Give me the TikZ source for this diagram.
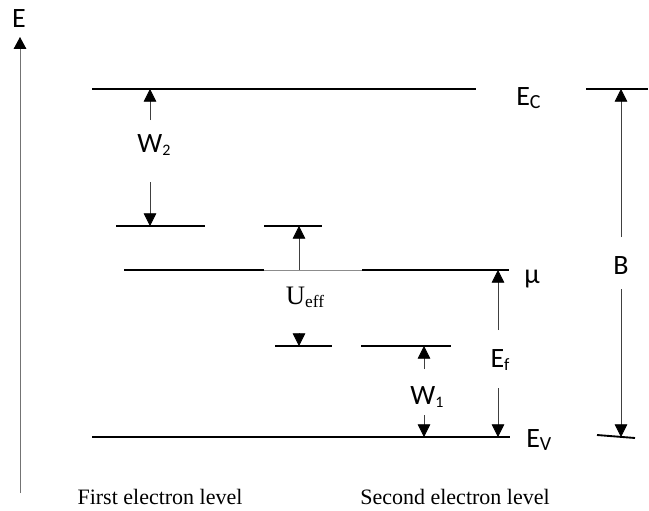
\documentclass[tikz,border=0pt]{standalone}
\usepackage{fontspec}
\setmainfont{Liberation Serif}
\newfontfamily\labelfont{Carlito}
\usetikzlibrary{arrows.meta}
\newcommand\lowsub[2]{\raisebox{-0.12em}{\fontsize{#1}{#1}\selectfont #2}}

\begin{document}
\begin{tikzpicture}[x=0.75pt, y=-0.75pt,
    level/.style={line width=1.4pt, line cap=butt},
    faint/.style={line width=0.7pt, black!45},
    arr/.style={line width=0.6pt, black!75, -{Triangle[width=9.5pt, length=9.5pt, color=black]}},
    lab/.style={font=\labelfont\fontsize{21}{24}\selectfont, inner sep=0pt},
    rom/.style={font=\fontsize{16.5}{18}\selectfont, inner sep=0pt}]

        \useasboundingbox (0,0) rectangle (649,510);

        % Energy axis
        \coordinate (E0) at (20,493);
        \coordinate (E1) at (20,37);
        \draw[line width=0.7pt, black!55, -{Triangle[width=9.5pt, length=9pt, color=black]}] (E0) -- (E1);
        \node[lab] (Elab) at (19,19) {E};

        % Levels
        \coordinate (Ec1) at (92,89);
        \coordinate (Ec2) at (476,89);
        \coordinate (Bt1) at (586,89);
        \coordinate (Bt2) at (648,89);
        \coordinate (La1) at (116,226);
        \coordinate (La2) at (205,226);
        \coordinate (Lb1) at (264,226);
        \coordinate (Lb2) at (322,226);
        \coordinate (Mu1) at (124,270);
        \coordinate (Mu2) at (264,270);
        \coordinate (Mu3) at (362,270);
        \coordinate (Mu4) at (509,270);
        \coordinate (Lc1) at (275,346);
        \coordinate (Lc2) at (332,346);
        \coordinate (Ld1) at (361,346);
        \coordinate (Ld2) at (451,346);
        \coordinate (Ev1) at (92,437);
        \coordinate (Ev2) at (510,437);
        \coordinate (Bb1) at (597,435);
        \coordinate (Bb2) at (635,438);

        \draw[level] (Ec1) -- (Ec2);
        \draw[level] (Bt1) -- (Bt2);
        \draw[level] (La1) -- (La2);
        \draw[level] (Lb1) -- (Lb2);
        \draw[level] (Mu1) -- (Mu2);
        \draw[faint] (Mu2) -- (Mu3);
        \draw[level] (Mu3) -- (Mu4);
        \draw[level] (Lc1) -- (Lc2);
        \draw[level] (Ld1) -- (Ld2);
        \draw[level] (Ev1) -- (Ev2);
        \draw[level] (Bb1) -- (Bb2);

        % Gap arrows
        \coordinate (W2a) at (150,120);
        \coordinate (W2b) at (150,182);
        \draw[arr] (W2a) -- (150,89);
        \draw[arr] (W2b) -- (150,226);
        \node[lab] (W2) at (154,145) {W\lowsub{12}{2}};

        \coordinate (Ua) at (299,270);
        \coordinate (Ub) at (299,333);
        \draw[arr] (Ua) -- (299,226);
        \draw[arr] (Ub) -- (299,346);
        \node[rom, font=\fontsize{20}{22}\selectfont] (Ueff) at (305,297) {U\lowsub{13}{eff}};

        \coordinate (W1a) at (424,369);
        \coordinate (W1b) at (424,415);
        \draw[arr] (W1a) -- (424,346);
        \draw[arr] (W1b) -- (424,437);
        \node[lab] (W1) at (427,397) {W\lowsub{12}{1}};

        \coordinate (Efa) at (498,330);
        \coordinate (Efb) at (498,388);
        \draw[arr] (Efa) -- (498,270);
        \draw[arr] (Efb) -- (498,437);
        \node[lab] (Ef) at (500,360) {E\lowsub{13}{f}};

        \coordinate (Ba) at (621,237);
        \coordinate (Bb) at (621,289);
        \draw[arr] (Ba) -- (621,89);
        \draw[arr] (Bb) -- (621,437);
        \node[lab] (Blab) at (621,266) {B};

        % Level names
        \node[lab, anchor=west] (EC) at (516,98) {E\lowsub{15}{C}};
        \node[lab, anchor=west] (MU) at (524,279) {μ};
        \node[lab, anchor=west] (EV) at (526,440) {E\lowsub{15}{V}};

        \node[rom] (first) at (160,497) {First electron level};
        \node[rom] (second) at (455,497) {Second electron level};

\end{tikzpicture}
\end{document}
